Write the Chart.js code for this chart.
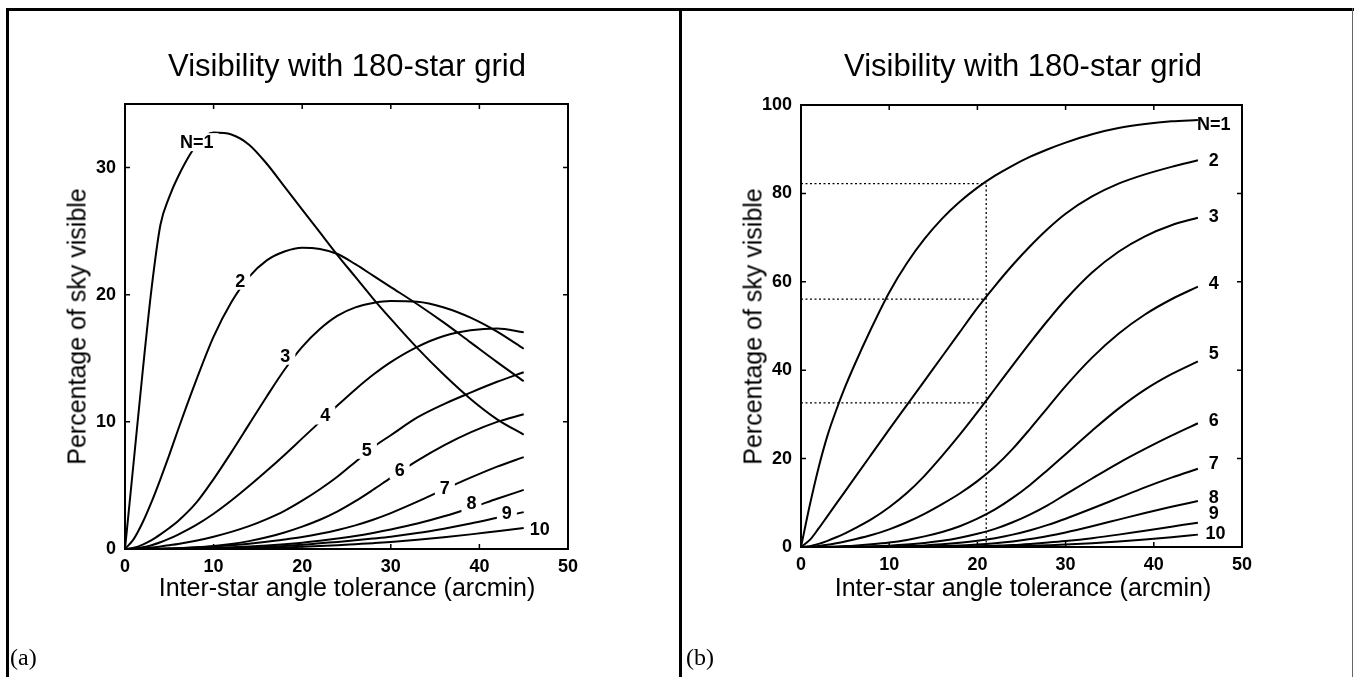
<!DOCTYPE html>
<html>
<head>
<meta charset="utf-8">
<script src="https://cdn.jsdelivr.net/npm/chart.js@4.4.1/dist/chart.umd.min.js"></script>
<style>
  body { margin: 0; background: #fff; }
  #page { position: relative; width: 1356px; height: 677px; overflow: hidden; background: #fff; font-family: 'Liberation Sans', Arial, Helvetica, sans-serif; color: #000; }
  .line { position: absolute; background: #000; }
  canvas { position: absolute; top: 0; }
  .title { position: absolute; width: 500px; text-align: center; font-size: 31px; line-height: 31px; white-space: nowrap; }
  .xlab { position: absolute; width: 500px; text-align: center; font-size: 25px; line-height: 25px; white-space: nowrap; }
  .ylab { position: absolute; width: 320px; height: 25px; text-align: center; font-size: 25px; line-height: 25px; white-space: nowrap; transform: rotate(-90deg); }
  .panel { position: absolute; font-family: 'Liberation Serif', 'Times New Roman', serif; font-size: 24px; line-height: 24px; }
</style>
</head>
<body>
<div id="page">
  <div class="line" style="left:6px; top:8px; width:1348px; height:3px;"></div>
  <div class="line" style="left:6px; top:8px; width:3px; height:669px;"></div>
  <div class="line" style="left:679px; top:8px; width:3px; height:669px;"></div>
  <div class="line" style="left:1352px; top:8px; width:1px; height:669px; background:#666;"></div>

  <canvas id="chartA" width="680" height="677" style="left:0px;"></canvas>
  <canvas id="chartB" width="678" height="677" style="left:678px;"></canvas>

  <div class="title" style="left:97px; top:50px;">Visibility with 180-star grid</div>
  <div class="title" style="left:773px; top:50px;">Visibility with 180-star grid</div>
  <div class="xlab" style="left:97px; top:575px;">Inter-star angle tolerance (arcmin)</div>
  <div class="xlab" style="left:773px; top:575px;">Inter-star angle tolerance (arcmin)</div>
  <div class="ylab" style="left:-83px; top:314px;">Percentage of sky visible</div>
  <div class="ylab" style="left:593px; top:314px;">Percentage of sky visible</div>
  <div class="panel" style="left:10px; top:645px;">(a)</div>
  <div class="panel" style="left:686px; top:645px;">(b)</div>
</div>

<script>
// --- DATOS ---
const X = [0, 1, 2, 3, 4, 5, 6, 8, 10, 12, 14, 16, 18, 20, 22, 24, 26, 28, 30, 33, 36, 39, 42, 45];

// (a) exactly N stars visible
const a1 = [0, 7.0, 14.0, 20.5, 25.5, 27.7, 29.3, 31.7, 32.75, 32.6, 31.8, 30.3, 28.5, 26.7, 24.9, 23.1, 21.4, 19.7, 18.1, 15.8, 13.7, 11.8, 10.2, 9.0];
const a2 = [0, 0.8, 2.1, 3.7, 5.5, 7.4, 9.4, 13.2, 16.7, 19.4, 21.4, 22.7, 23.4, 23.7, 23.6, 23.2, 22.4, 21.5, 20.6, 19.25, 17.8, 16.25, 14.7, 13.2];
const a3 = [0, 0.1, 0.35, 0.7, 1.15, 1.65, 2.2, 3.6, 5.5, 7.6, 9.8, 12.0, 14.1, 15.9, 17.3, 18.35, 19.0, 19.35, 19.5, 19.45, 19.0, 18.2, 17.1, 15.75];
const a4 = [0, 0.03, 0.13, 0.3, 0.53, 0.81, 1.13, 1.87, 2.77, 3.81, 4.95, 6.15, 7.4, 8.7, 10.0, 11.3, 12.55, 13.7, 14.7, 15.9, 16.75, 17.2, 17.35, 17.05];
const a5 = [0, 0.01, 0.05, 0.11, 0.2, 0.3, 0.4, 0.65, 0.97, 1.35, 1.8, 2.35, 3.0, 3.8, 4.7, 5.7, 6.85, 8.0, 8.95, 10.35, 11.4, 12.3, 13.15, 13.9];
const a6 = [0, 0, 0, 0.01, 0.02, 0.04, 0.06, 0.13, 0.24, 0.4, 0.62, 0.92, 1.3, 1.76, 2.3, 2.96, 3.76, 4.66, 5.6, 6.95, 8.15, 9.17, 10.0, 10.6];
const a7 = [0, 0, 0, 0.01, 0.02, 0.04, 0.06, 0.12, 0.2, 0.3, 0.42, 0.57, 0.75, 0.95, 1.2, 1.5, 1.86, 2.3, 2.82, 3.72, 4.68, 5.61, 6.48, 7.23];
const a8 = [0, 0, 0, 0, 0, 0.01, 0.02, 0.04, 0.08, 0.13, 0.2, 0.28, 0.38, 0.5, 0.65, 0.82, 1.02, 1.26, 1.53, 2.0, 2.57, 3.23, 3.95, 4.65];
const a9 = [0, 0, 0, 0, 0, 0, 0.01, 0.02, 0.04, 0.07, 0.11, 0.17, 0.24, 0.33, 0.45, 0.56, 0.68, 0.82, 0.97, 1.25, 1.6, 2.0, 2.45, 2.9];
const a10 = [0, 0, 0, 0, 0, 0, 0, 0.01, 0.02, 0.03, 0.05, 0.08, 0.12, 0.17, 0.23, 0.3, 0.38, 0.46, 0.55, 0.72, 0.92, 1.15, 1.4, 1.65];

// (b) at least N stars visible
const b1 = [0, 9.5, 18, 25.2, 31.0, 36.2, 40.9, 49.6, 57.6, 64.2, 69.7, 74.3, 78.1, 81.3, 84.0, 86.3, 88.3, 90.0, 91.5, 93.4, 94.8, 95.7, 96.3, 96.6];
const b2 = [0, 1.6, 4.2, 7.0, 9.8, 12.6, 15.4, 21.0, 26.6, 32.1, 37.6, 43.1, 48.6, 54.1, 59.1, 63.8, 68.1, 72.0, 75.4, 79.3, 82.2, 84.3, 86.0, 87.5];
const b3 = [0, 0.2, 0.7, 1.4, 2.2, 3.1, 4.1, 6.3, 9.0, 12.2, 16.1, 20.6, 25.4, 30.5, 35.8, 41.1, 46.3, 51.3, 56.0, 62.1, 66.8, 70.3, 72.8, 74.5];
const b4 = [0, 0.07, 0.25, 0.5, 0.85, 1.25, 1.7, 2.7, 4.0, 5.6, 7.5, 9.7, 12.1, 14.9, 18.2, 22.2, 26.8, 31.6, 36.4, 42.85, 48.25, 52.6, 56.05, 58.9];
const b5 = [0, 0, 0.02, 0.06, 0.12, 0.2, 0.3, 0.6, 1.0, 1.6, 2.4, 3.4, 4.7, 6.4, 8.5, 11.1, 14.1, 17.5, 21.0, 26.3, 31.3, 35.6, 39.1, 42.0];
const b6 = [0, 0, 0, 0.01, 0.02, 0.04, 0.07, 0.15, 0.3, 0.55, 0.9, 1.4, 2.1, 3.0, 4.1, 5.6, 7.4, 9.5, 11.9, 15.5, 19.0, 22.2, 25.2, 28.0];
const b7 = [0, 0, 0, 0, 0, 0.01, 0.02, 0.05, 0.1, 0.2, 0.35, 0.6, 0.95, 1.4, 2.0, 2.8, 3.8, 5.0, 6.4, 8.7, 11.1, 13.5, 15.7, 17.7];
const b8 = [0, 0, 0, 0, 0, 0, 0.01, 0.02, 0.03, 0.05, 0.1, 0.2, 0.35, 0.55, 0.85, 1.25, 1.8, 2.5, 3.3, 4.7, 6.2, 7.7, 9.1, 10.4];
const b9 = [0, 0, 0, 0, 0, 0, 0, 0, 0.01, 0.02, 0.03, 0.05, 0.1, 0.18, 0.3, 0.45, 0.7, 1.0, 1.35, 2.0, 2.8, 3.7, 4.6, 5.5];
const b10 = [0, 0, 0, 0, 0, 0, 0, 0, 0, 0, 0.01, 0.02, 0.03, 0.05, 0.1, 0.17, 0.27, 0.4, 0.55, 0.85, 1.25, 1.7, 2.2, 2.8];

// curve labels
const labelsText = ['N=1', '2', '3', '4', '5', '6', '7', '8', '9', '10'];
const labelsAX = [8.1, 13.0, 18.1, 22.6, 27.3, 31.0, 36.1, 39.1, 43.1, 46.8];
const labelsAY = [32.0, 21.1, 15.2, 10.5, 7.8, 6.2, 4.8, 3.6, 2.8, 1.55];
const labelsBX = [46.8, 46.8, 46.8, 46.8, 46.8, 46.8, 46.8, 46.8, 46.8, 47.0];
const labelsBY = [95.6, 87.6, 74.8, 59.7, 43.9, 28.8, 19.0, 11.4, 7.6, 3.1];

// dotted read-off lines in (b)
const dotX = 21;
const dotY = [82.2, 56.1, 32.6];

const FONT = "'Liberation Sans', Arial, Helvetica, sans-serif";

function toPoints(ys) {
    return X.map((x, i) => ({ x: x, y: ys[i] }));
}

function curveSet(ys) {
    return { data: toPoints(ys), borderColor: '#000', borderWidth: 2, pointRadius: 0, cubicInterpolationMode: 'monotone', fill: false };
}

function dottedSet(pts) {
    return { data: pts, borderColor: '#000', borderWidth: 1.3, borderDash: [2, 2.5], pointRadius: 0, tension: 0, fill: false };
}

// frame, inward ticks and curve labels (MATLAB look)
const framePlugin = {
    id: 'frame',
    afterDatasetsDraw(chart, args, opts) {
        const { ctx, chartArea: a, scales: { x, y } } = chart;
        ctx.save();
        ctx.font = 'bold ' + opts.labelSize + 'px ' + FONT;
        ctx.textAlign = 'center';
        ctx.textBaseline = 'middle';
        opts.text.forEach((t, i) => {
            const px = x.getPixelForValue(opts.lx[i]);
            const py = y.getPixelForValue(opts.ly[i]);
            if (opts.gap) {
                const w = ctx.measureText(t).width;
                ctx.fillStyle = '#fff';
                ctx.fillRect(px - w / 2 - 5, py - 9, w + 10, 18);
            }
            ctx.fillStyle = '#000';
            ctx.fillText(t, px, py + 1);
        });

        ctx.strokeStyle = '#000';
        ctx.lineWidth = 2;
        ctx.strokeRect(a.left, a.top, a.right - a.left, a.bottom - a.top);
        ctx.lineWidth = 1.5;
        ctx.beginPath();
        x.ticks.forEach(t => {
            const px = x.getPixelForValue(t.value);
            ctx.moveTo(px, a.bottom); ctx.lineTo(px, a.bottom - 5);
            ctx.moveTo(px, a.top); ctx.lineTo(px, a.top + 5);
        });
        y.ticks.forEach(t => {
            if (t.value % opts.step !== 0) return;
            const py = y.getPixelForValue(t.value);
            ctx.moveTo(a.left, py); ctx.lineTo(a.left + 5, py);
            ctx.moveTo(a.right, py); ctx.lineTo(a.right - 5, py);
        });
        ctx.stroke();
        ctx.restore();
    }
};

function makeChart(id, datasets, yMax, yStep, pad, xH, yW, frameOpts) {
    return new Chart(document.getElementById(id), {
        type: 'line',
        data: { datasets: datasets },
        plugins: [framePlugin],
        options: {
            responsive: false,
            animation: false,
            devicePixelRatio: 1,
            layout: { padding: pad },
            plugins: { legend: { display: false }, tooltip: { enabled: false }, frame: frameOpts },
            scales: {
                x: {
                    type: 'linear', min: 0, max: 50,
                    grid: { display: false }, border: { display: false },
                    ticks: { stepSize: 10, color: '#000', padding: -1, font: { family: FONT, size: 18, weight: 'bold' } },
                    afterFit: s => { s.height = xH; }
                },
                y: {
                    type: 'linear', min: 0, max: yMax,
                    grid: { display: false, drawTicks: false }, border: { display: false },
                    ticks: { stepSize: yStep, color: '#000', padding: 9, font: { family: FONT, size: 18, weight: 'bold' },
                             callback: v => (v % yStep === 0 ? v : null) },
                    afterFit: s => { s.width = yW; }
                }
            }
        }
    });
}

const setsA = [a1, a2, a3, a4, a5, a6, a7, a8, a9, a10].map(curveSet);
makeChart('chartA', setsA, 35, 10, { left: 0, top: 104, right: 112, bottom: 0 }, 128, 125,
    { text: labelsText, lx: labelsAX, ly: labelsAY, gap: true, labelSize: 18, step: 10 });

const setsB = [b1, b2, b3, b4, b5, b6, b7, b8, b9, b10].map(curveSet);
dotY.forEach(v => setsB.push(dottedSet([{ x: 0, y: v }, { x: dotX, y: v }])));
setsB.push(dottedSet([{ x: dotX, y: 0 }, { x: dotX, y: dotY[0] }]));
makeChart('chartB', setsB, 100, 20, { left: 0, top: 105, right: 114, bottom: 0 }, 130, 123,
    { text: labelsText, lx: labelsBX, ly: labelsBY, gap: false, labelSize: 18, step: 20 });
</script>
</body>
</html>
